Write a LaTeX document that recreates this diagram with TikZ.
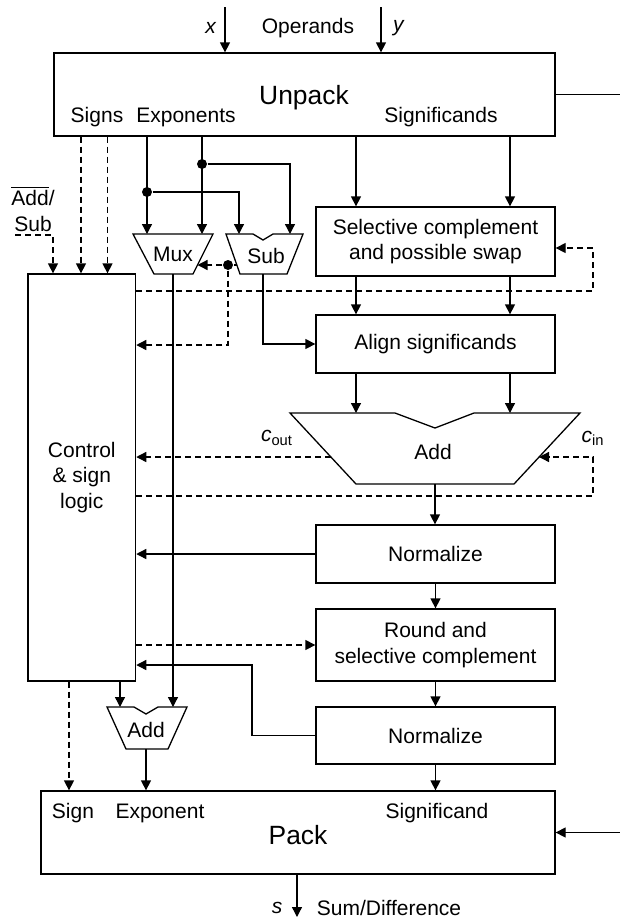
\documentclass[tikz,border=0pt]{standalone}
\usepackage{fontspec}
\setmainfont{Liberation Sans}
\usetikzlibrary{arrows.meta}

\begin{document}
\begin{tikzpicture}[x=0.5pt, y=-0.5pt, line width=0.65pt,
  every node/.style={font=\fontsize{10.5}{12.6}\selectfont},
  big/.style={font=\fontsize{13.2}{16}\selectfont},
  blk/.style={draw, minimum width=119.5pt, inner sep=0pt, align=center},
  arr/.style={-{Triangle[length=5pt,width=5pt]}},
  dsh/.style={dash pattern=on 3pt off 2pt},
  dot/.style={circle, fill, inner sep=0pt, minimum size=5pt}]
  \useasboundingbox (0,0) rectangle (620,917);

  \node[draw, minimum width=250.5pt, minimum height=41.5pt] (unpack) at (304.5,94.5) {};
  \node[big] (unpacklbl) at (304,98) {Unpack};
  \node (signs) at (97,117) {Signs};
  \node (exps) at (186,117) {Exponents};
  \node (sigs) at (441,117) {Significands};

  \node[blk, minimum height=34.5pt] (sel) at (435.5,241.5) {Selective complement\\and possible swap};
  \node[blk, minimum height=29pt] (align) at (435.5,344) {Align significands};
  \node[blk, minimum height=29pt] (norm1) at (435.5,554) {Normalize};
  \node[blk, minimum height=36pt] (round) at (435.5,645) {Round and\\selective complement};
  \node[blk, minimum height=28.5pt] (norm2) at (435.5,735.5) {Normalize};
  \node[draw, minimum width=53.8pt, minimum height=203.5pt, align=center] (ctrl) at (81.8,477.5) {Control\\\& sign\\logic};

  \node[draw, minimum width=257pt, minimum height=41.5pt] (pack) at (298,832.5) {};
  \node[big] (packlbl) at (298,835) {Pack};
  \node (sign) at (73,813) {Sign};
  \node (expo) at (160,813) {Exponent};
  \node (sigc) at (437,813) {Significand};

  \draw (133,234) -- (213,234) -- (193,274) -- (154,274) -- cycle;
  \node (mux) at (173,254) {Mux};
  \draw (226,234) -- (253,234) -- (263,240) -- (273,234) -- (303,234) -- (287,274) -- (240,274) -- cycle;
  \node (sub) at (266,256) {Sub};
  \draw (290,413) -- (395,413) -- (435,428) -- (474,413) -- (580,413) -- (514,484) -- (356,484) -- cycle;
  \node (addbig) at (433,452) {Add};
  \draw (107,707) -- (134,707) -- (146,714) -- (158,707) -- (187,707) -- (168,749) -- (126,749) -- cycle;
  \node (addsmall) at (146,730) {Add};

  \coordinate (xin) at (225,7);
  \coordinate (yin) at (381,7);
  \coordinate (sgna) at (81,0);
  \coordinate (sgnb) at (107.5,0);
  \coordinate (muxa) at (147,234);
  \coordinate (muxb) at (202,234);
  \coordinate (suba) at (239,234);
  \coordinate (subb) at (290,234);
  \coordinate (siga) at (356,0);
  \coordinate (sigb) at (510,0);
  \coordinate (addtop) at (0,413);
  \coordinate (asin) at (15,235);
  \coordinate (asdn) at (53,0);
  \coordinate (subl) at (237,265);
  \coordinate (muxr) at (197.5,265);
  \coordinate (ctl1) at (0,345);
  \coordinate (subo) at (263,274);
  \coordinate (muxo) at (173,274);
  \coordinate (adsa) at (120,707);
  \coordinate (adsb) at (173,707);
  \coordinate (adso) at (146,749);
  \coordinate (ret1) at (593,291);
  \coordinate (ret2) at (593,496);
  \coordinate (coutp) at (331,457);
  \coordinate (cinp) at (539,457);
  \coordinate (addo) at (435,484);
  \coordinate (fb) at (252,665);
  \coordinate (sgno) at (69,0);
  \coordinate (rt) at (620,0);
  \coordinate (sout) at (297,917);

  \draw[arr] (xin) -- (xin |- unpack.north);
  \draw[arr] (yin) -- (yin |- unpack.north);
  \node (xlbl) at (211,28) {\textit{x}};
  \node (oplbl) at (308,28) {Operands};
  \node (ylbl) at (399,28) {\textit{y}};
  \draw (unpack.east) -- (unpack.east -| rt);

  \node[align=center] (addsub) at (33,209) {$\overline{\mbox{Add}}$/\\Sub};
  \draw[arr,dsh] (asin) -| (ctrl.north -| asdn);
  \draw[arr,dsh] (unpack.south -| sgna) -- (ctrl.north -| sgna);
  \draw[arr,dsh] (unpack.south -| sgnb) -- (ctrl.north -| sgnb);

  \draw[arr] (unpack.south -| muxa) -- (muxa);
  \draw[arr] (unpack.south -| muxb) -- (muxb);
  \node[dot] (jexa) at (147,192) {};
  \node[dot] (jexb) at (202,164) {};
  \draw[arr] (jexa) -| (suba);
  \draw[arr] (jexb) -| (subb);

  \foreach \c in {siga,sigb} {
    \draw[arr] (unpack.south -| \c) -- (sel.north -| \c);
    \draw[arr] (sel.south -| \c) -- (align.north -| \c);
    \draw[arr] (align.south -| \c) -- (\c |- addtop);
  }

  \node[dot] (jsub) at (228,265) {};
  \draw (subl) -- (jsub);
  \draw[arr,dsh] (jsub) -- (muxr);
  \draw[arr,dsh] (jsub) |- (ctrl.east |- ctl1);
  \draw[arr] (subo) |- (align.west);
  \draw[arr] (muxo) -- (adsb);

  \draw[arr,dsh] (ctrl.east |- ret1) -| ([yshift=-3.25pt]sel.east -| ret1) -- ([yshift=-3.25pt]sel.east);
  \draw[arr,dsh] (coutp) -- (ctrl.east |- coutp);
  \draw[arr,dsh] (ctrl.east |- ret2) -| (ret2 |- cinp) -- (cinp);
  \node (coutlbl) at (277,438) {\textit{c}\textsubscript{out}};
  \node (cinlbl) at (593,438) {\textit{c}\textsubscript{in}};

  \draw[arr] (addo) -- (addo |- norm1.north);
  \draw[arr] (norm1.west) -- (ctrl.east |- norm1.west);
  \draw[arr] (norm1) -- (round);
  \draw[arr] (round) -- (norm2);
  \draw[arr] (norm2.south) -- (norm2.south |- pack.north);
  \draw[arr,dsh] (ctrl.east |- round.west) -- (round.west);
  \draw[arr] (norm2.west) -| (fb) -- (ctrl.east |- fb);

  \draw[arr] (ctrl.south -| adsa) -- (adsa);
  \draw[arr,dsh] (ctrl.south -| sgno) -- (pack.north -| sgno);
  \draw[arr] (adso) -- (pack.north -| adso);

  \draw[arr] (pack.east -| rt) -- (pack.east);
  \draw[arr] (pack.south -| sout) -- (sout);
  \node (slbl) at (277,908) {\textit{s}};
  \node (sumlbl) at (389,908) {Sum/Difference};
\end{tikzpicture}
\end{document}
